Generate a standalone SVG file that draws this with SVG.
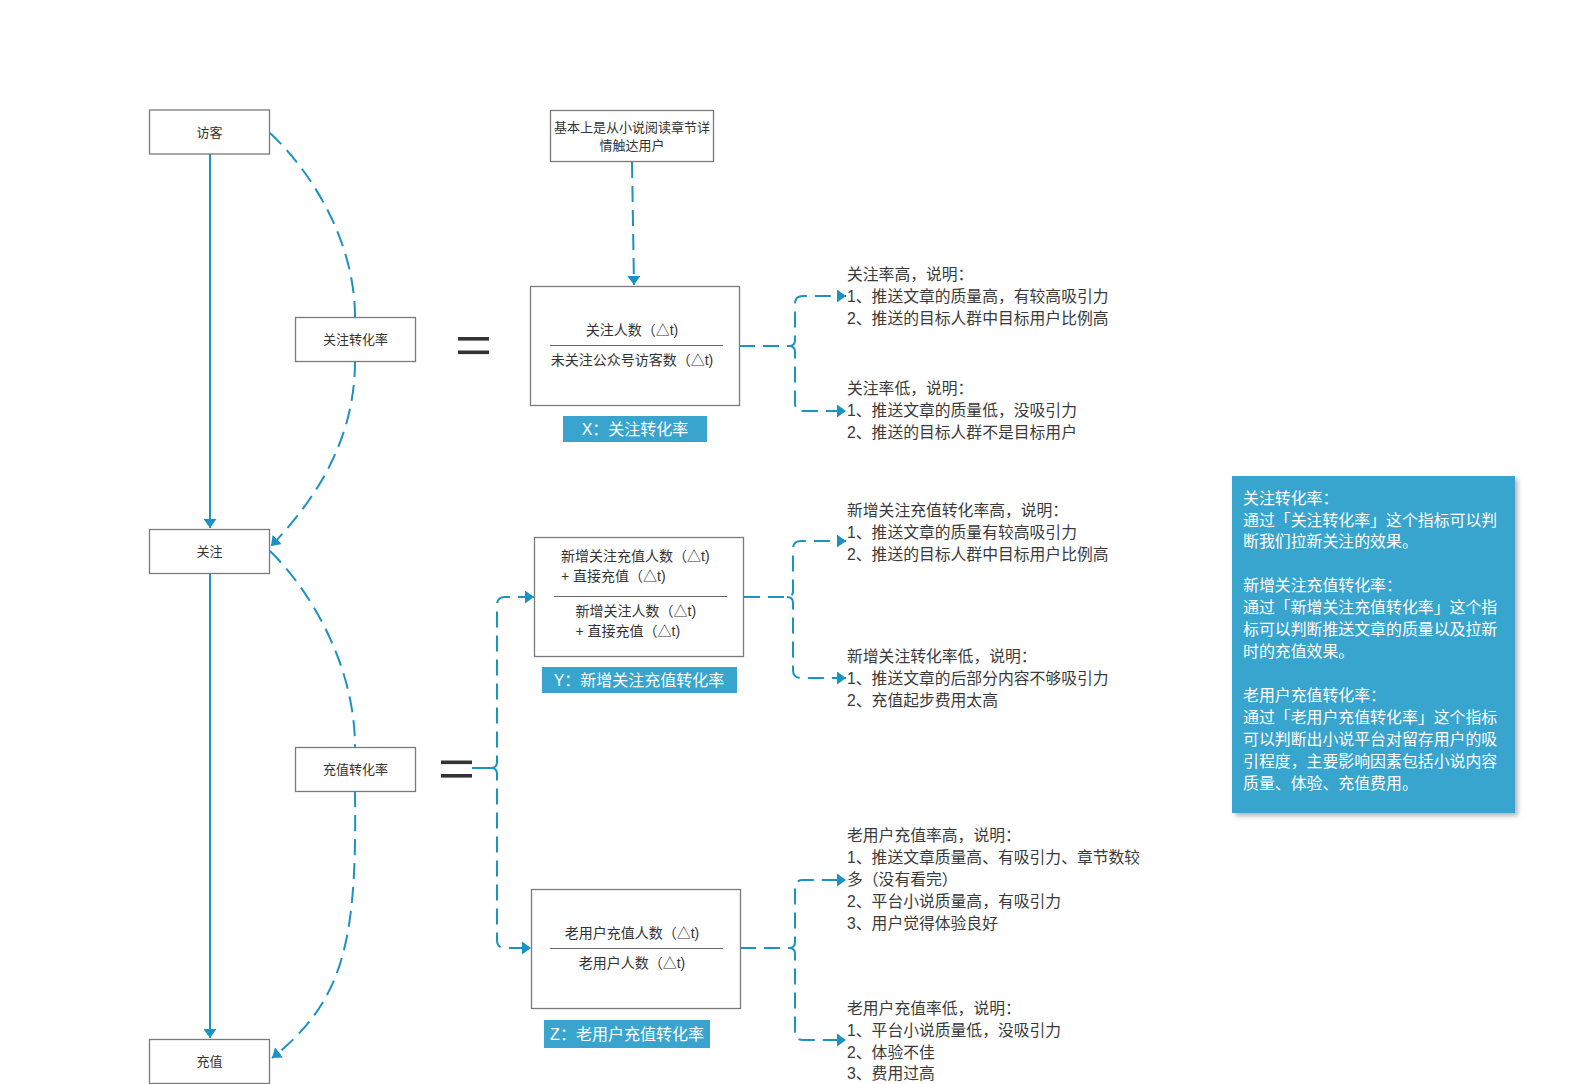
<svg xmlns="http://www.w3.org/2000/svg" width="1595" height="1084" viewBox="0 0 1595 1084">
<style>
text{font-family:"Liberation Sans","Noto Sans CJK SC",sans-serif;fill:#333;dominant-baseline:central}
.box{fill:#fff;stroke:#7a7a7a;stroke-width:1.3}
.nl{font-size:13px;text-anchor:middle}
.fm{font-size:14px}
.fc{font-size:14px;text-anchor:middle}
.lab{fill:#39a5cf}
.labt{font-size:16px;fill:#fff;text-anchor:middle}
.note{font-size:15.8px;fill:#3a3a3a}
.info{font-size:15.9px;fill:#fff}
.sep{stroke:#666;stroke-width:1.2}
.eq{fill:#333}
.solid{fill:none;stroke:#1a92c4;stroke-width:2}
.dash{fill:none;stroke:#1a92c4;stroke-width:2;stroke-dasharray:16 8}
</style>
<defs>
<marker id="ah" viewBox="0 0 9 13" markerUnits="userSpaceOnUse" markerWidth="9" markerHeight="13" refX="9" refY="6.5" orient="auto">
<path d="M0,0 L9,6.5 L0,13 z" fill="#1a92c4"/>
</marker>
<filter id="sh" x="-5%" y="-5%" width="115%" height="115%">
<feDropShadow dx="3" dy="3" stdDeviation="2" flood-color="#888" flood-opacity="0.6"/>
</filter>
</defs>
<rect width="1595" height="1084" fill="#fff"/>

<g id="connectors">
<path class="solid" d="M210,154 V528" marker-end="url(#ah)"/>
<path class="solid" d="M210,574 V1038" marker-end="url(#ah)"/>
<path class="dash" d="M270,133 C310,170 355,240 355,317"/>
<path class="dash" d="M355,361 C355,430 325,490 271,546" marker-end="url(#ah)"/>
<path class="dash" d="M270,551 C310,590 355,665 355,747"/>
<path class="dash" d="M355,791 C357,940 345,1000 272,1058" marker-end="url(#ah)"/>
<path class="dash" d="M632,162 L634,285" marker-end="url(#ah)"/>
<path class="dash" d="M739,346 H789 Q795,346 795,340 V304 Q795,296 803,296 H846" marker-end="url(#ah)"/>
<path class="dash" d="M789,346 Q795,346 795,352 V403 Q795,411 803,411 H846" marker-end="url(#ah)"/>
<path class="dash" d="M744,597 H787 Q793,597 793,591 V549 Q793,541 801,541 H846" marker-end="url(#ah)"/>
<path class="dash" d="M787,597 Q793,597 793,603 V670 Q793,678 801,678 H846" marker-end="url(#ah)"/>
<path class="dash" d="M740,948 H789 Q795,948 795,942 V888 Q795,880 803,880 H846" marker-end="url(#ah)"/>
<path class="dash" d="M789,948 Q795,948 795,954 V1032 Q795,1040 803,1040 H846" marker-end="url(#ah)"/>
<path class="solid" d="M472,768 H491"/>
<path class="dash" d="M491,768 Q497,768 497,762 V605 Q497,597 505,597 H534" marker-end="url(#ah)"/>
<path class="dash" d="M491,768 Q497,768 497,774 V940 Q497,948 505,948 H531" marker-end="url(#ah)"/>
</g>

<g id="visitor"><rect class="box" x="149.5" y="110" width="120" height="44"/><text class="nl" x="209.5" y="132">访客</text></g>
<g id="follow"><rect class="box" x="149.5" y="529.5" width="120" height="44"/><text class="nl" x="209.5" y="551.5">关注</text></g>
<g id="recharge"><rect class="box" x="149.5" y="1039.5" width="120" height="44"/><text class="nl" x="209.5" y="1061.5">充值</text></g>
<g id="follow-rate"><rect class="box" x="295.5" y="317.5" width="120" height="44"/><text class="nl" x="355.5" y="339.5">关注转化率</text></g>
<g id="recharge-rate"><rect class="box" x="295.5" y="747.5" width="120" height="44"/><text class="nl" x="355.5" y="769.5">充值转化率</text></g>

<g id="eq1"><rect class="eq" x="458" y="337" width="31" height="3.6"/><rect class="eq" x="458" y="350.5" width="31" height="3.6"/></g>
<g id="eq2"><rect class="eq" x="441" y="760.5" width="31" height="3.6"/><rect class="eq" x="441" y="774" width="31" height="3.6"/></g>

<g id="source"><rect class="box" x="550.5" y="110.5" width="163" height="51"/>
<text class="nl" x="632" y="127">基本上是从小说阅读章节详</text>
<text class="nl" x="632" y="145">情触达用户</text></g>

<g id="x-formula"><rect class="box" x="530.5" y="286.5" width="209" height="119"/>
<text class="fc" x="632" y="330">关注人数（△t)</text>
<line class="sep" x1="550" y1="345.5" x2="723" y2="345.5"/>
<text class="fc" x="632" y="360">未关注公众号访客数（△t)</text></g>
<g id="x-label"><rect class="lab" x="563" y="416" width="144" height="26"/><text class="labt" x="635" y="429">X：关注转化率</text></g>

<g id="y-formula"><rect class="box" x="534.5" y="537.5" width="209" height="119"/>
<text class="fm" x="561" y="556">新增关注充值人数（△t)</text>
<text class="fm" x="561" y="576">+ 直接充值（△t)</text>
<line class="sep" x1="554" y1="596.5" x2="727" y2="596.5"/>
<text class="fm" x="575.5" y="610.5">新增关注人数（△t)</text>
<text class="fm" x="575.5" y="631">+ 直接充值（△t)</text></g>
<g id="y-label"><rect class="lab" x="542" y="667" width="195" height="26"/><text class="labt" x="639" y="680">Y：新增关注充值转化率</text></g>

<g id="z-formula"><rect class="box" x="531.5" y="889.5" width="209" height="119"/>
<text class="fc" x="632" y="933">老用户充值人数（△t)</text>
<line class="sep" x1="550" y1="948.5" x2="723" y2="948.5"/>
<text class="fc" x="632" y="963">老用户人数（△t)</text></g>
<g id="z-label"><rect class="lab" x="544" y="1020" width="166" height="28"/><text class="labt" x="627" y="1034">Z：老用户充值转化率</text></g>

<g id="x-notes">
<text class="note" x="847" y="274">关注率高，说明：</text>
<text class="note" x="847" y="296">1、推送文章的质量高，有较高吸引力</text>
<text class="note" x="847" y="318">2、推送的目标人群中目标用户比例高</text>
<text class="note" x="847" y="388">关注率低，说明：</text>
<text class="note" x="847" y="410">1、推送文章的质量低，没吸引力</text>
<text class="note" x="847" y="432">2、推送的目标人群不是目标用户</text>
</g>
<g id="y-notes">
<text class="note" x="847" y="510">新增关注充值转化率高，说明：</text>
<text class="note" x="847" y="532">1、推送文章的质量有较高吸引力</text>
<text class="note" x="847" y="554">2、推送的目标人群中目标用户比例高</text>
<text class="note" x="847" y="656">新增关注转化率低，说明：</text>
<text class="note" x="847" y="678">1、推送文章的后部分内容不够吸引力</text>
<text class="note" x="847" y="700">2、充值起步费用太高</text>
</g>
<g id="z-notes">
<text class="note" x="847" y="835">老用户充值率高，说明：</text>
<text class="note" x="847" y="857.5">1、推送文章质量高、有吸引力、章节数较</text>
<text class="note" x="847" y="879.5">多（没有看完）</text>
<text class="note" x="847" y="901.5">2、平台小说质量高，有吸引力</text>
<text class="note" x="847" y="923.5">3、用户觉得体验良好</text>
<text class="note" x="847" y="1008">老用户充值率低，说明：</text>
<text class="note" x="847" y="1030">1、平台小说质量低，没吸引力</text>
<text class="note" x="847" y="1052">2、体验不佳</text>
<text class="note" x="847" y="1073.5">3、费用过高</text>
</g>

<g id="info">
<rect x="1232" y="476" width="283" height="337" fill="#39a5cf" filter="url(#sh)"/>
<text class="info" x="1243" y="498">关注转化率：</text>
<text class="info" x="1243" y="520">通过「关注转化率」这个指标可以判</text>
<text class="info" x="1243" y="541.5">断我们拉新关注的效果。</text>
<text class="info" x="1243" y="585">新增关注充值转化率：</text>
<text class="info" x="1243" y="607">通过「新增关注充值转化率」这个指</text>
<text class="info" x="1243" y="629">标可以判断推送文章的质量以及拉新</text>
<text class="info" x="1243" y="651">时的充值效果。</text>
<text class="info" x="1243" y="695">老用户充值转化率：</text>
<text class="info" x="1243" y="717">通过「老用户充值转化率」这个指标</text>
<text class="info" x="1243" y="739">可以判断出小说平台对留存用户的吸</text>
<text class="info" x="1243" y="761">引程度，主要影响因素包括小说内容</text>
<text class="info" x="1243" y="783">质量、体验、充值费用。</text>
</g>
</svg>
